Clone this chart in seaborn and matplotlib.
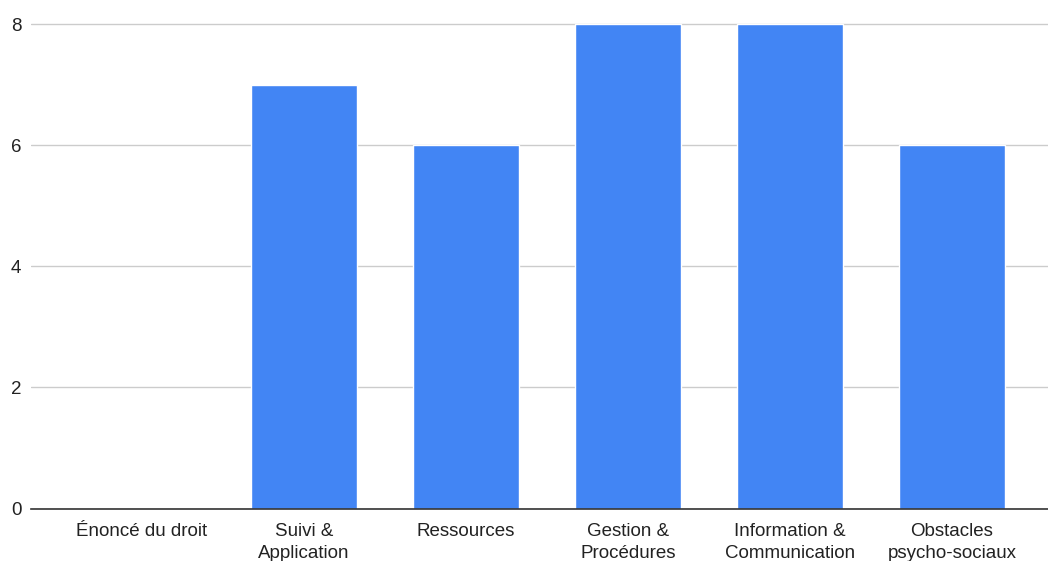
import matplotlib
matplotlib.use("Agg")
import matplotlib.pyplot as plt
import seaborn as sns
import pandas as pd

categories = ["Énoncé du droit", "Suivi &\nApplication", "Ressources",
              "Gestion &\nProcédures", "Information &\nCommunication", "Obstacles\npsycho-sociaux"]
values = [0, 7, 6, 8, 8, 6]
yticks = [0, 2, 4, 6, 8]

sns.set_theme(style="white")
plt.rcParams['font.family'] = ['Liberation Sans', 'DejaVu Sans']

df = pd.DataFrame({"cat": categories, "val": values})

fig = plt.figure(figsize=(10.48, 5.61), dpi=100)
ax = fig.add_axes([31/1048, (561-508.5)/561, (1048-31)/1048, 508.5/561])

sns.barplot(data=df, x="cat", y="val", color="#4285F4", saturation=1,
            width=0.654, ax=ax, zorder=3)

ax.set_xlim(-0.685, 5.593)
ax.set_ylim(0, 8.4)
ax.set_yticks(yticks)
ax.set_yticklabels([str(t) for t in yticks])
ax.set_xlabel("")
ax.set_ylabel("")
ax.grid(axis="y", color="#cccccc", linewidth=1, zorder=0)
ax.grid(axis="x", visible=False)
for s in ["top", "right", "left"]:
    ax.spines[s].set_visible(False)
ax.spines["bottom"].set_color("#333333")
ax.spines["bottom"].set_linewidth(1.2)
ax.spines["bottom"].set_zorder(4)
ax.tick_params(axis="x", length=0, pad=10.5, labelsize=13.5, labelcolor="#222222")
ax.tick_params(axis="y", length=0, pad=7, labelsize=13.5, labelcolor="#222222")
for lab in ax.get_xticklabels():
    lab.set_linespacing(1.38)

fig.savefig("out.png", dpi=100)
